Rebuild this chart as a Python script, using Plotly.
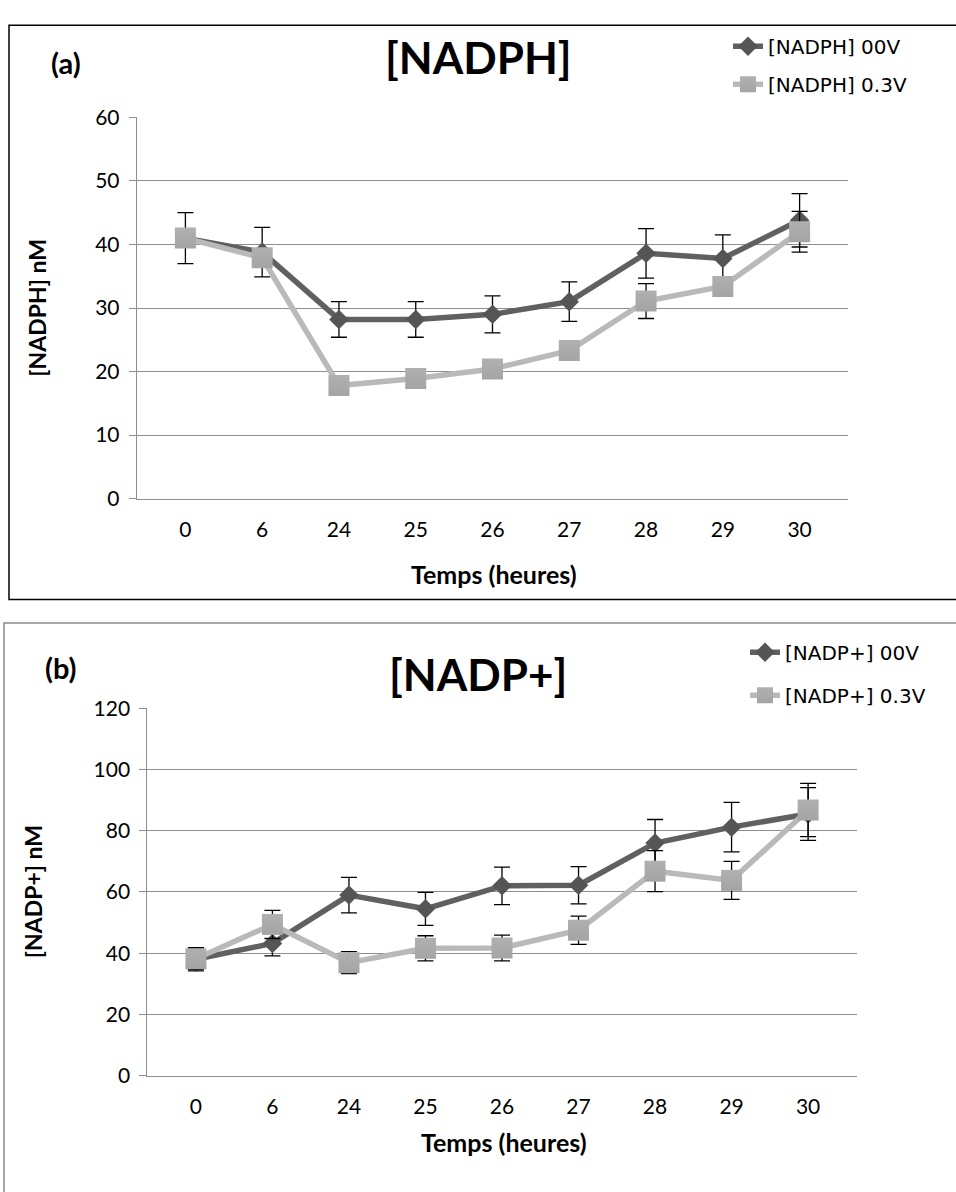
import plotly.graph_objects as go

categories = ["0", "6", "24", "25", "26", "27", "28", "29", "30"]

nadph_00v = [41.0, 38.8, 28.2, 28.2, 29.0, 31.0, 38.6, 37.8, 43.8]
nadph_00v_err = [4.0, 3.9, 2.8, 2.8, 2.9, 3.1, 3.9, 3.7, 4.2]
nadph_03v = [41.0, 37.9, 17.8, 18.9, 20.4, 23.3, 31.1, 33.4, 42.0]
nadph_03v_err = [0.0, 0.0, 0.0, 0.0, 0.0, 0.0, 2.75, 0.0, 3.2]

nadp_00v = [38.0, 43.2, 59.0, 54.5, 62.0, 62.2, 76.0, 81.2, 85.5]
nadp_00v_err = [3.8, 4.1, 5.8, 5.4, 6.1, 6.1, 7.7, 8.1, 8.6]
nadp_03v = [38.2, 49.4, 36.9, 41.6, 41.7, 47.5, 66.8, 63.8, 86.8]
nadp_03v_err = [3.5, 4.6, 3.6, 4.1, 4.2, 4.6, 6.7, 6.2, 8.7]

W, H = 956, 1192
DARK_LINE = "#606060"
DARK_MARK = "#555555"
LIGHT_LINE = "#b9b9b9"
LIGHT_MARK = "#b0b0b0"
GRID = "#8e8e8e"
FONT = "Lato"


def px_x(x):
    return x / W


def px_y(y):
    return 1 - y / H


fig = go.Figure()


def err(arr):
    return dict(type="data", array=arr, visible=True, color="black", thickness=1.3, width=8)


fig.add_trace(go.Scatter(
    x=categories, y=nadph_00v, name="[NADPH] 00V", mode="lines+markers",
    line=dict(color=DARK_LINE, width=5.5),
    marker=dict(symbol="diamond", size=15, color=DARK_MARK),
    error_y=err(nadph_00v_err), xaxis="x", yaxis="y", legend="legend", legendgroup="a1"))
fig.add_trace(go.Scatter(
    x=categories, y=nadph_03v, name="[NADPH] 0.3V", mode="lines+markers",
    line=dict(color=LIGHT_LINE, width=5.5),
    marker=dict(symbol="square", size=21, color=LIGHT_MARK,
                gradient=dict(type="vertical", color="#a4a4a4")),
    error_y=err(nadph_03v_err), xaxis="x", yaxis="y", legend="legend", legendgroup="a2"))
fig.add_trace(go.Scatter(
    x=categories, y=nadp_00v, name="[NADP+] 00V", mode="lines+markers",
    line=dict(color=DARK_LINE, width=5.5),
    marker=dict(symbol="diamond", size=15, color=DARK_MARK),
    error_y=err(nadp_00v_err), xaxis="x2", yaxis="y2", legend="legend2", legendgroup="b1"))
fig.add_trace(go.Scatter(
    x=categories, y=nadp_03v, name="[NADP+] 0.3V", mode="lines+markers",
    line=dict(color=LIGHT_LINE, width=5.5),
    marker=dict(symbol="square", size=21, color=LIGHT_MARK,
                gradient=dict(type="vertical", color="#a4a4a4")),
    error_y=err(nadp_03v_err), xaxis="x2", yaxis="y2", legend="legend2", legendgroup="b2"))

xcommon = dict(type="category", showgrid=False, showline=True, linecolor=GRID, linewidth=1,
               ticks="", tickfont=dict(family=FONT, size=21, color="black"),
               ticklabelstandoff=12, zeroline=False, fixedrange=True)
ycommon = dict(showgrid=True, gridcolor=GRID, gridwidth=1, showline=True, linecolor=GRID,
               linewidth=1, ticks="outside", ticklen=7, tickcolor=GRID,
               tickfont=dict(family=FONT, size=21, color="black"), zeroline=False,
               ticklabelstandoff=5, fixedrange=True)

fig.update_layout(
    width=W, height=H,
    margin=dict(l=0, r=0, t=0, b=0),
    paper_bgcolor="white", plot_bgcolor="white",
    xaxis=dict(domain=[px_x(136.7), px_x(848.3)], anchor="y", **xcommon),
    yaxis=dict(domain=[px_y(495), px_y(105.6)], anchor="x", range=[0, 60], dtick=10, **ycommon),
    xaxis2=dict(domain=[px_x(147.3), px_x(856.7)], anchor="y2", **xcommon),
    yaxis2=dict(domain=[px_y(1084.3), px_y(709.3)], anchor="x2", range=[0, 120], dtick=20, **ycommon),
    legend=dict(x=px_x(728), y=px_y(13), xanchor="left", yanchor="top",
                font=dict(family="DejaVu Sans", size=20, color="black"),
                bgcolor="rgba(0,0,0,0)", traceorder="grouped", tracegroupgap=9,
                itemwidth=30),
    legend2=dict(x=px_x(745), y=px_y(632), xanchor="left", yanchor="top",
                 font=dict(family="DejaVu Sans", size=20, color="black"),
                 bgcolor="rgba(0,0,0,0)", traceorder="grouped", tracegroupgap=14,
                 itemwidth=30),
    showlegend=True,
)

# boxes around panels
fig.add_shape(type="rect", xref="paper", yref="paper",
              x0=px_x(9), x1=px_x(970), y0=px_y(598), y1=px_y(11.5),
              line=dict(color="black", width=1.5), layer="below")
fig.add_shape(type="rect", xref="paper", yref="paper",
              x0=px_x(4), x1=px_x(970), y0=px_y(1210), y1=px_y(622),
              line=dict(color="#8a8a8a", width=1.5), layer="below")

ann = []
ann.append(dict(text="<b>(a)</b>", x=px_x(66), y=px_y(50), font=dict(family=FONT, size=29, weight=900)))
ann.append(dict(text="<b>[NADPH]</b>", x=px_x(478), y=px_y(44), font=dict(family=FONT, size=44, weight=900)))
ann.append(dict(text="<b>[NADPH] nM</b>", x=px_x(37), y=px_y(300), textangle=-90,
                font=dict(family=FONT, size=23)))
ann.append(dict(text="<b>Temps (heures)</b>", x=px_x(494), y=px_y(572), font=dict(family=FONT, size=25)))
ann.append(dict(text="<b>(b)</b>", x=px_x(61), y=px_y(668), font=dict(family=FONT, size=29, weight=900)))
ann.append(dict(text="<b>[NADP+]</b>", x=px_x(478), y=px_y(674), font=dict(family=FONT, size=44, weight=900)))
ann.append(dict(text="<b>[NADP+] nM</b>", x=px_x(33), y=px_y(897), textangle=-90,
                font=dict(family=FONT, size=23)))
ann.append(dict(text="<b>Temps (heures)</b>", x=px_x(504), y=px_y(1152), font=dict(family=FONT, size=25)))
for a in ann:
    a.update(xref="paper", yref="paper", showarrow=False, xanchor="center", yanchor="middle")
    a["font"]["color"] = "black"
fig.update_layout(annotations=ann)

fig.write_html("out.html", config={"displayModeBar": False},
               post_script="document.body.style.margin='0';")
